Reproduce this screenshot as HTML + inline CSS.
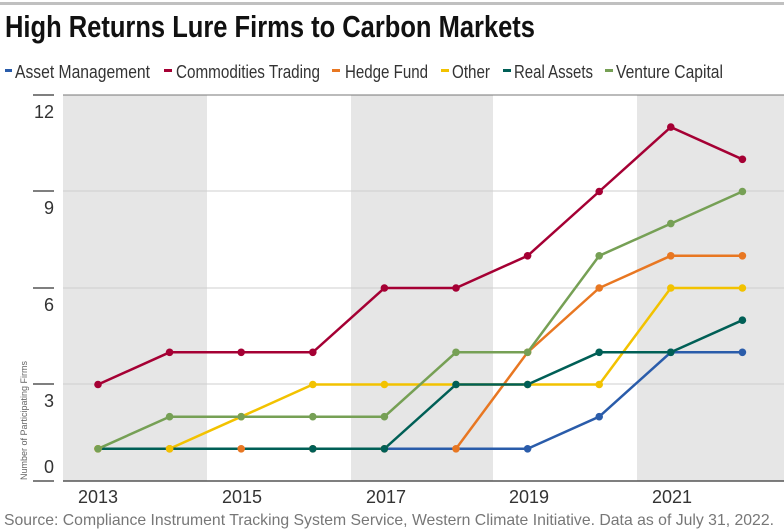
<!DOCTYPE html><html><head><style>body{margin:0;background:#fff}svg{display:block}text{font-family:"Liberation Sans Narrow","Liberation Sans",sans-serif}</style></head><body>
<svg width="784" height="532" xmlns="http://www.w3.org/2000/svg">
<rect x="0" y="2" width="784" height="3" fill="#c0c0c0"/>
<text x="5" y="37" font-size="31" font-weight="bold" fill="#111" textLength="530" lengthAdjust="spacingAndGlyphs">High Returns Lure Firms to Carbon Markets</text>
<g font-size="18" fill="#333">
<rect x="5" y="69" width="7" height="3" fill="#2a5caa"/><text x="15" y="78" textLength="135" lengthAdjust="spacingAndGlyphs">Asset Management</text>
<rect x="164" y="69" width="8" height="3" fill="#a50034"/><text x="176" y="78" textLength="144" lengthAdjust="spacingAndGlyphs">Commodities Trading</text>
<rect x="332" y="69" width="8" height="3" fill="#e87722"/><text x="345" y="78" textLength="83" lengthAdjust="spacingAndGlyphs">Hedge Fund</text>
<rect x="441" y="69" width="8" height="3" fill="#f2c200"/><text x="452" y="78" textLength="38" lengthAdjust="spacingAndGlyphs">Other</text>
<rect x="503" y="69" width="8" height="3" fill="#005f56"/><text x="514" y="78" textLength="79" lengthAdjust="spacingAndGlyphs">Real Assets</text>
<rect x="605" y="69" width="8" height="3" fill="#76a055"/><text x="616" y="78" textLength="107" lengthAdjust="spacingAndGlyphs">Venture Capital</text>
</g>
<rect x="63" y="95" width="144" height="386" fill="#e6e6e6"/>
<rect x="351" y="95" width="142" height="386" fill="#e6e6e6"/>
<rect x="637" y="95" width="147" height="386" fill="#e6e6e6"/>
<g stroke="#cfcfcf" stroke-width="1"><line x1="63" y1="191" x2="784" y2="191"/><line x1="63" y1="288" x2="784" y2="288"/><line x1="63" y1="384" x2="784" y2="384"/></g>
<line x1="63" y1="95" x2="784" y2="95" stroke="#777" stroke-width="1"/>
<line x1="63" y1="481" x2="784" y2="481" stroke="#555" stroke-width="1.5"/>
<g stroke="#555" stroke-width="1.5"><line x1="33" y1="95" x2="54" y2="95"/><line x1="33" y1="191" x2="54" y2="191"/><line x1="33" y1="288" x2="54" y2="288"/><line x1="33" y1="384" x2="54" y2="384"/><line x1="33" y1="481" x2="54" y2="481"/></g>
<g font-size="18" fill="#333" text-anchor="end"><text x="54" y="118">12</text><text x="54" y="214">9</text><text x="54" y="311">6</text><text x="54" y="407">3</text><text x="54" y="473">0</text></g>
<text transform="translate(27,480) rotate(-90)" font-size="9" fill="#666">Number of Participating Firms</text>
<g font-size="18" fill="#333" text-anchor="middle"><text x="98" y="503">2013</text><text x="242" y="503">2015</text><text x="386" y="503">2017</text><text x="529" y="503">2019</text><text x="672" y="503">2021</text></g>
<text x="4" y="525" font-size="16" fill="#777" textLength="770" lengthAdjust="spacingAndGlyphs">Source: Compliance Instrument Tracking System Service, Western Climate Initiative. Data as of July 31, 2022.</text>
<g fill="none" stroke-width="2.5">
<polyline stroke="#e87722" points="98,448.8 169.6,448.8 241.2,448.8 312.8,448.8 384.4,448.8 456,448.8 527.6,352.3 599.2,288 670.8,255.8 742.4,255.8"/>
<polyline stroke="#2a5caa" points="98,448.8 169.6,448.8 241.2,448.8 312.8,448.8 384.4,448.8 456,448.8 527.6,448.8 599.2,416.7 670.8,352.3 742.4,352.3"/>
<polyline stroke="#f2c200" points="98,448.8 169.6,448.8 241.2,416.7 312.8,384.5 384.4,384.5 456,384.5 527.6,384.5 599.2,384.5 670.8,288 742.4,288"/>
<polyline stroke="#005f56" points="98,448.8 169.6,448.8 241.2,448.8 312.8,448.8 384.4,448.8 456,384.5 527.6,384.5 599.2,352.3 670.8,352.3 742.4,320.2"/>
<polyline stroke="#76a055" points="98,448.8 169.6,416.7 241.2,416.7 312.8,416.7 384.4,416.7 456,352.3 527.6,352.3 599.2,255.8 670.8,223.6 742.4,191.5"/>
<polyline stroke="#a50034" points="98,384.5 169.6,352.3 241.2,352.3 312.8,352.3 384.4,288 456,288 527.6,255.8 599.2,191.5 670.8,127.1 742.4,159.3"/>
</g>
<g>
<g fill="#e87722"><circle cx="98" cy="448.8" r="3.8"/><circle cx="169.6" cy="448.8" r="3.8"/><circle cx="241.2" cy="448.8" r="3.8"/><circle cx="312.8" cy="448.8" r="3.8"/><circle cx="384.4" cy="448.8" r="3.8"/><circle cx="456" cy="448.8" r="3.8"/><circle cx="527.6" cy="352.3" r="3.8"/><circle cx="599.2" cy="288" r="3.8"/><circle cx="670.8" cy="255.8" r="3.8"/><circle cx="742.4" cy="255.8" r="3.8"/></g>
<g fill="#2a5caa"><circle cx="527.6" cy="448.8" r="3.8"/><circle cx="599.2" cy="416.7" r="3.8"/><circle cx="670.8" cy="352.3" r="3.8"/><circle cx="742.4" cy="352.3" r="3.8"/></g>
<g fill="#f2c200"><circle cx="98" cy="448.8" r="3.8"/><circle cx="169.6" cy="448.8" r="3.8"/><circle cx="241.2" cy="416.7" r="3.8"/><circle cx="312.8" cy="384.5" r="3.8"/><circle cx="384.4" cy="384.5" r="3.8"/><circle cx="456" cy="384.5" r="3.8"/><circle cx="527.6" cy="384.5" r="3.8"/><circle cx="599.2" cy="384.5" r="3.8"/><circle cx="670.8" cy="288" r="3.8"/><circle cx="742.4" cy="288" r="3.8"/></g>
<g fill="#005f56"><circle cx="312.8" cy="448.8" r="3.8"/><circle cx="384.4" cy="448.8" r="3.8"/><circle cx="456" cy="384.5" r="3.8"/><circle cx="527.6" cy="384.5" r="3.8"/><circle cx="599.2" cy="352.3" r="3.8"/><circle cx="670.8" cy="352.3" r="3.8"/><circle cx="742.4" cy="320.2" r="3.8"/></g>
<g fill="#76a055"><circle cx="98" cy="448.8" r="3.8"/><circle cx="169.6" cy="416.7" r="3.8"/><circle cx="241.2" cy="416.7" r="3.8"/><circle cx="312.8" cy="416.7" r="3.8"/><circle cx="384.4" cy="416.7" r="3.8"/><circle cx="456" cy="352.3" r="3.8"/><circle cx="527.6" cy="352.3" r="3.8"/><circle cx="599.2" cy="255.8" r="3.8"/><circle cx="670.8" cy="223.6" r="3.8"/><circle cx="742.4" cy="191.5" r="3.8"/></g>
<g fill="#a50034"><circle cx="98" cy="384.5" r="3.8"/><circle cx="169.6" cy="352.3" r="3.8"/><circle cx="241.2" cy="352.3" r="3.8"/><circle cx="312.8" cy="352.3" r="3.8"/><circle cx="384.4" cy="288" r="3.8"/><circle cx="456" cy="288" r="3.8"/><circle cx="527.6" cy="255.8" r="3.8"/><circle cx="599.2" cy="191.5" r="3.8"/><circle cx="670.8" cy="127.1" r="3.8"/><circle cx="742.4" cy="159.3" r="3.8"/></g>
</g>
</svg></body></html>
